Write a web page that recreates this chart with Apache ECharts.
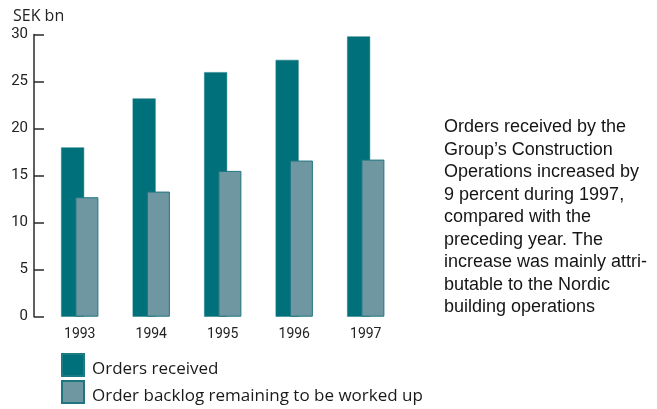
<!DOCTYPE html>
<html>
<head>
<meta charset="utf-8">
<script src="https://cdn.jsdelivr.net/npm/echarts@6/dist/echarts.min.js"></script>
<style>
  html, body { margin: 0; padding: 0; background: #fff; }
  #chart { width: 657px; height: 409px; }
</style>
</head>
<body>
<div id="chart"></div>
<script>
// Construction orders, SEK bn
const years = ['1993', '1994', '1995', '1996', '1997'];
const ordersReceived = [18.0, 23.2, 26.0, 27.3, 29.8];
const orderBacklog = [12.7, 13.3, 15.5, 16.6, 16.7];
const seriesNames = ['Orders received', 'Order backlog remaining to be worked up'];
const unitLabel = 'SEK bn';
const noteText = [
  'Orders received by the',
  'Group\u2019s Construction',
  'Operations increased by',
  '9 percent during 1997,',
  'compared with the',
  'preceding year. The',
  'increase was mainly attri-',
  'butable to the Nordic',
  'building operations'
];

const DARK = '#00707a';
const LIGHT = '#6e97a2';

const chart = echarts.init(document.getElementById('chart'), null, { renderer: 'canvas' });

chart.setOption({
  animation: false,
  backgroundColor: '#ffffff',
  title: [
    {
      text: unitLabel,
      left: 13,
      top: 8,
      padding: 0,
      textStyle: { fontFamily: 'Open Sans', fontSize: 16, fontWeight: 'normal', color: '#222' }
    },
    {
      text: noteText.join('\n'),
      left: 444,
      top: 116,
      padding: 0,
      textStyle: {
        fontFamily: 'Liberation Sans',
        fontSize: 18,
        fontWeight: 'normal',
        color: '#151515',
        lineHeight: 22.5
      }
    }
  ],
  legend: {
    orient: 'vertical',
    left: 61,
    top: 352,
    height: 120,
    padding: 0,
    itemWidth: 22,
    itemHeight: 22,
    itemGap: 1,
    icon: 'rect',
    data: seriesNames,
    // labels sit low beside their swatches
    formatter: name => '\n' + name,
    textStyle: {
      fontFamily: 'Open Sans',
      fontSize: 17,
      color: '#1a1a1a',
      lineHeight: 9,
      padding: [0, 0, 0, 3]
    }
  },
  grid: {
    left: 44,
    right: 255.5,
    top: 34.5,
    bottom: 92.3,
    containLabel: false
  },
  xAxis: {
    type: 'category',
    data: years,
    axisLine: { show: false },
    axisTick: { show: false },
    axisLabel: {
      margin: 11,
      fontFamily: 'Roboto',
      fontSize: 14,
      color: '#222'
    }
  },
  yAxis: {
    type: 'value',
    min: 0,
    max: 30,
    interval: 5,
    offset: 10,
    splitLine: { show: false },
    axisLine: { show: true, lineStyle: { color: '#2a2a2a', width: 1.5 } },
    axisTick: { show: true, inside: true, length: 10, lineStyle: { color: '#2a2a2a', width: 1.5 } },
    axisLabel: {
      margin: 6,
      fontFamily: 'Roboto',
      fontSize: 15,
      color: '#222'
    }
  },
  series: [
    {
      name: seriesNames[0],
      type: 'bar',
      data: ordersReceived,
      barWidth: 23,
      barGap: '-38%',
      itemStyle: { color: DARK, borderColor: '#1b7c85', borderWidth: 0.5 }
    },
    {
      name: seriesNames[1],
      type: 'bar',
      data: orderBacklog,
      barWidth: 23,
      itemStyle: { color: LIGHT, borderColor: '#1f7680', borderWidth: 1 }
    }
  ]
});
</script>
</body>
</html>
